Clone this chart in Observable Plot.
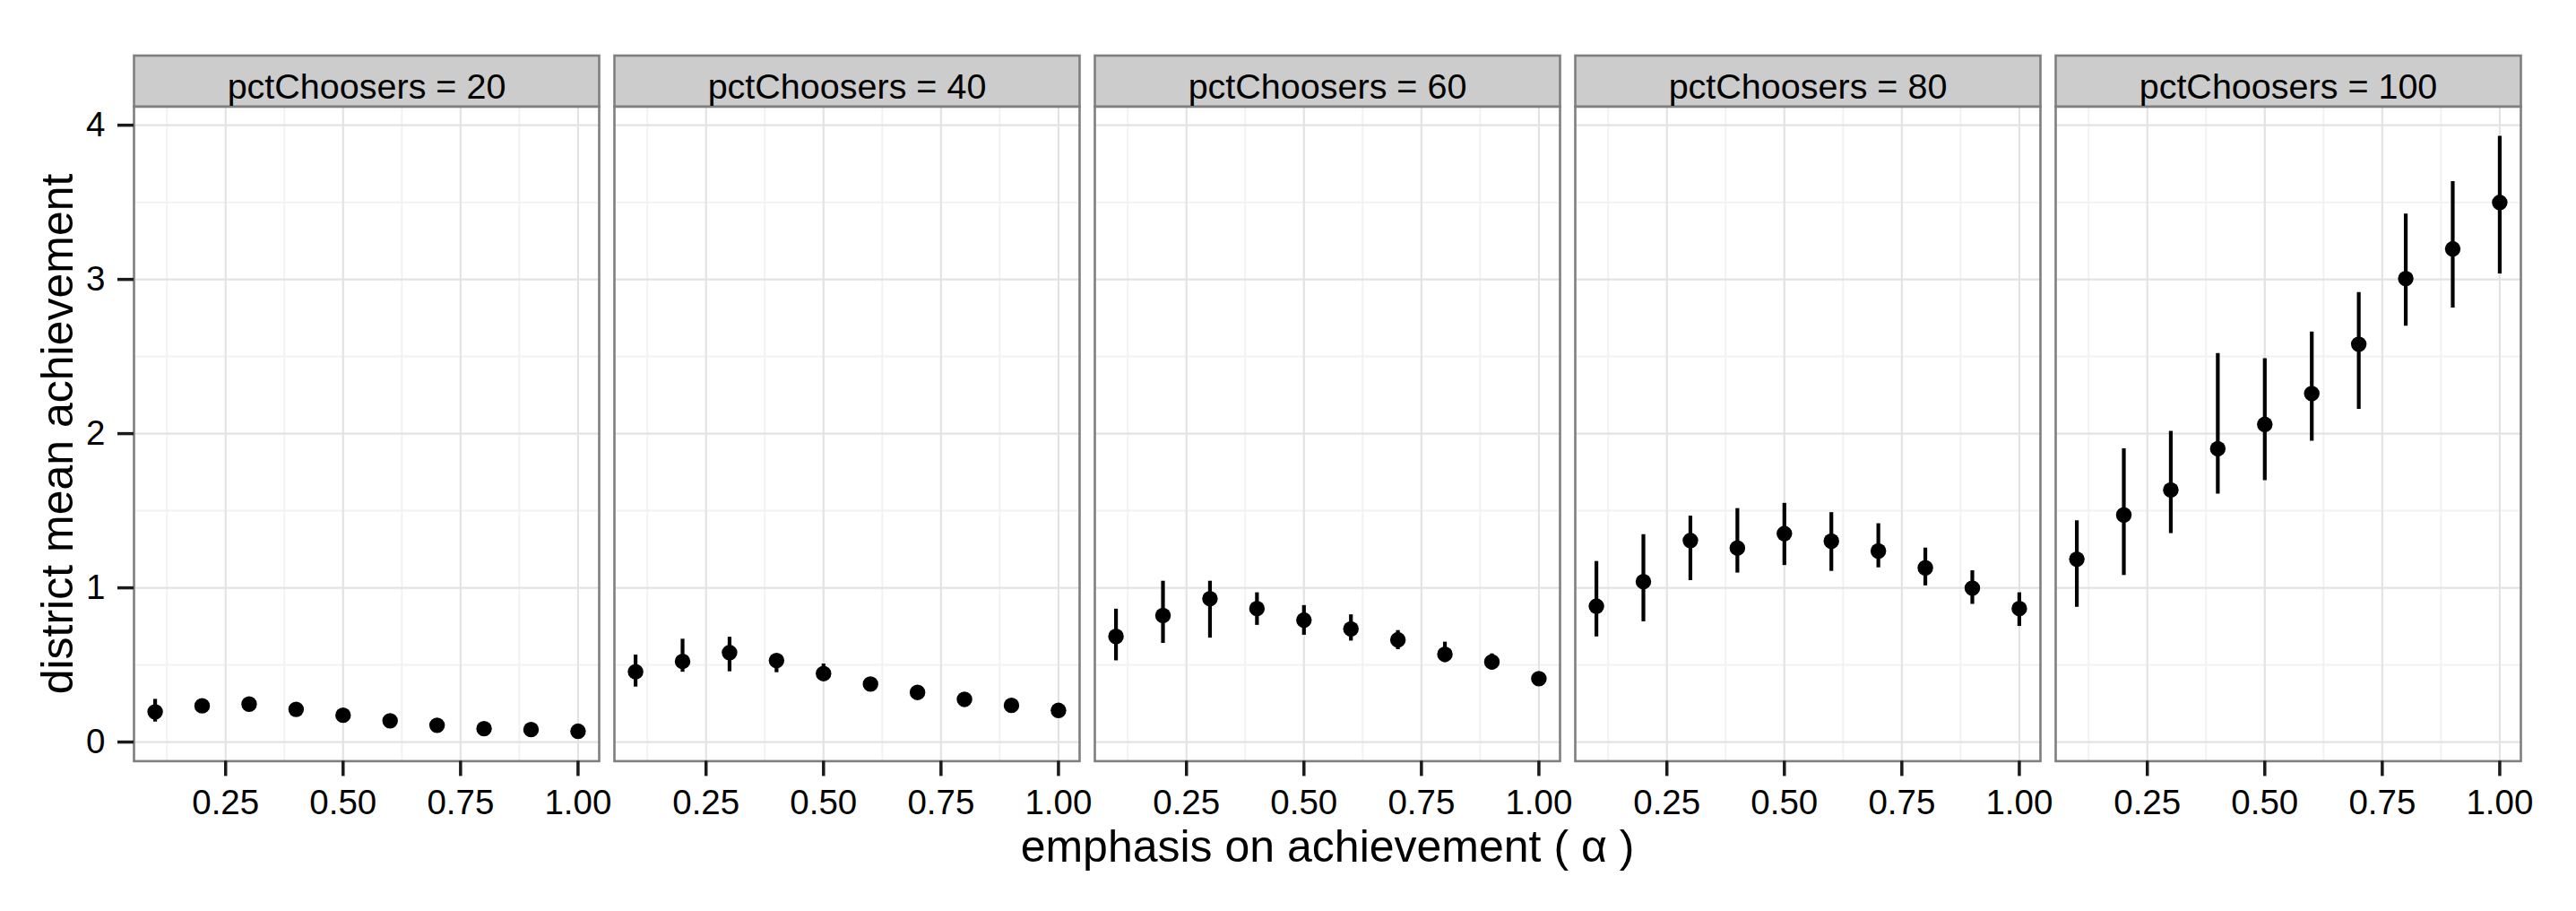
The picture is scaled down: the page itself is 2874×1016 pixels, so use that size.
<!DOCTYPE html>
<html>
<head>
<meta charset="utf-8">
<script src="https://cdn.jsdelivr.net/npm/d3@7"></script>
<script src="https://cdn.jsdelivr.net/npm/@observablehq/plot@0.6"></script>
<style>
  html, body { margin: 0; padding: 0; background: #ffffff; }
  #chart svg { display: block; }
</style>
</head>
<body>
<div id="chart"></div>
<script>
// ---- data ----
const alphas = [0.1, 0.2, 0.3, 0.4, 0.5, 0.6, 0.7, 0.8, 0.9, 1.0];
const pctChoosers = [20, 40, 60, 80, 100];

const mean20 = [0.196, 0.235, 0.246, 0.212, 0.174, 0.138, 0.109, 0.087, 0.081, 0.070];
const lo20   = [0.130, 0.205, 0.215, 0.185, 0.150, 0.118, 0.090, 0.070, 0.066, 0.058];
const hi20   = [0.277, 0.265, 0.278, 0.240, 0.200, 0.160, 0.128, 0.104, 0.096, 0.084];

const mean40 = [0.456, 0.523, 0.580, 0.529, 0.444, 0.376, 0.322, 0.277, 0.238, 0.205];
const lo40   = [0.357, 0.453, 0.456, 0.450, 0.400, 0.340, 0.290, 0.250, 0.212, 0.182];
const hi40   = [0.564, 0.667, 0.680, 0.570, 0.506, 0.410, 0.352, 0.302, 0.262, 0.228];

const mean60 = [0.685, 0.821, 0.930, 0.866, 0.791, 0.734, 0.663, 0.569, 0.520, 0.411];
const lo60   = [0.527, 0.640, 0.674, 0.757, 0.693, 0.655, 0.599, 0.516, 0.467, 0.380];
const hi60   = [0.862, 1.043, 1.043, 0.968, 0.885, 0.825, 0.723, 0.648, 0.572, 0.440];

const mean80 = [0.881, 1.040, 1.307, 1.258, 1.352, 1.303, 1.239, 1.130, 0.998, 0.866];
const lo80   = [0.682, 0.780, 1.047, 1.096, 1.145, 1.107, 1.130, 1.013, 0.893, 0.750];
const hi80   = [1.171, 1.345, 1.465, 1.514, 1.548, 1.488, 1.416, 1.258, 1.111, 0.968];

const mean100 = [1.186, 1.473, 1.635, 1.902, 2.060, 2.260, 2.580, 3.006, 3.198, 3.499];
const lo100   = [0.874, 1.081, 1.352, 1.608, 1.695, 1.951, 2.158, 2.697, 2.814, 3.036];
const hi100   = [1.435, 1.902, 2.015, 2.520, 2.486, 2.659, 2.915, 3.424, 3.635, 3.928];

const xTicks = [0.25, 0.50, 0.75, 1.00];
const xMinorTicks = [0.125, 0.375, 0.625, 0.875];
const yTicks = [0, 1, 2, 3, 4];
const yMinorTicks = [0.5, 1.5, 2.5, 3.5];

const stripPrefix = "pctChoosers = ";
const xTitle = "emphasis on achievement ( \u03B1 )";
const yTitle = "district mean achievement";

// ---- build table ----
const seriesByPct = {
  20: [mean20, lo20, hi20],
  40: [mean40, lo40, hi40],
  60: [mean60, lo60, hi60],
  80: [mean80, lo80, hi80],
  100: [mean100, lo100, hi100]
};
const rows = [];
for (const p of pctChoosers) {
  const [m, lo, hi] = seriesByPct[p];
  alphas.forEach((a, i) => rows.push({pct: p, alpha: a, mean: m[i], lo: lo[i], hi: hi[i]}));
}
const strips = pctChoosers.map(p => ({pct: p, label: stripPrefix + p}));

// ---- layout ----
const W = 2874, H = 1016;
const mT = 118.5, mB = 167.6, mL = 149, mR = 61;
const frameH = H - mT - mB;
const stripH = 57;
const font = "'Liberation Sans', Arial, Helvetica, sans-serif";

const chart = Plot.plot({
  width: W,
  height: H,
  marginTop: mT,
  marginBottom: mB,
  marginLeft: mL,
  marginRight: mR,
  style: {fontFamily: font, fontSize: "38.5px", color: "black", background: "white"},
  fx: {domain: pctChoosers, paddingInner: 0.0317, paddingOuter: 0, axis: null, label: null},
  x: {domain: [0.055, 1.045], label: null},
  y: {domain: [-0.124, 4.12], label: null},
  marks: [
    // strip (frame extended upward, then covered by the panel background)
    Plot.frame({fill: "#cccccc", stroke: "#7f7f7f", strokeWidth: 2.6, insetTop: -stripH, insetBottom: frameH}),
    Plot.frame({fill: "white", stroke: "none"}),
    // grid
    Plot.gridX(xMinorTicks, {stroke: "#f2f2f2", strokeWidth: 2, strokeOpacity: 1}),
    Plot.gridY(yMinorTicks, {stroke: "#f2f2f2", strokeWidth: 2, strokeOpacity: 1}),
    Plot.gridX(xTicks, {stroke: "#e3e3e3", strokeWidth: 2.2, strokeOpacity: 1}),
    Plot.gridY(yTicks, {stroke: "#e3e3e3", strokeWidth: 2.2, strokeOpacity: 1}),
    // data
    Plot.ruleX(rows, {fx: "pct", x: "alpha", y1: "lo", y2: "hi", stroke: "black", strokeWidth: 4.2}),
    Plot.dot(rows, {fx: "pct", x: "alpha", y: "mean", r: 8.7, fill: "black", stroke: "none"}),
    // panel border
    Plot.frame({stroke: "#7f7f7f", strokeWidth: 2.6}),
    // axes
    Plot.axisX(xTicks, {tickFormat: d3.format(".2f"), tickSize: 17, tickPadding: 15, strokeWidth: 3.5, stroke: "#1a1a1a", fill: "black", fontSize: 38.5, label: null}),
    Plot.axisY(yTicks, {tickFormat: d3.format("d"), tickSize: 18, tickPadding: 14, strokeWidth: 3.5, stroke: "#1a1a1a", fill: "black", fontSize: 38.5, label: null}),
    // strip labels
    Plot.text(strips, {fx: "pct", text: "label", frameAnchor: "top", lineAnchor: "middle", textAnchor: "middle", dy: -21.2, fontSize: 39.5, fill: "black"}),
    // axis titles
    Plot.text([pctChoosers[0]], {fx: d => d, text: () => yTitle, frameAnchor: "left", textAnchor: "middle", lineAnchor: "middle", rotate: -90, dx: -85, fontSize: 50, fill: "black"}),
    Plot.text([pctChoosers[2]], {fx: d => d, text: () => xTitle, frameAnchor: "bottom", textAnchor: "middle", lineAnchor: "middle", dy: 95.6, fontSize: 50, fill: "black"})
  ]
});

document.getElementById("chart").appendChild(chart);
</script>
</body>
</html>
